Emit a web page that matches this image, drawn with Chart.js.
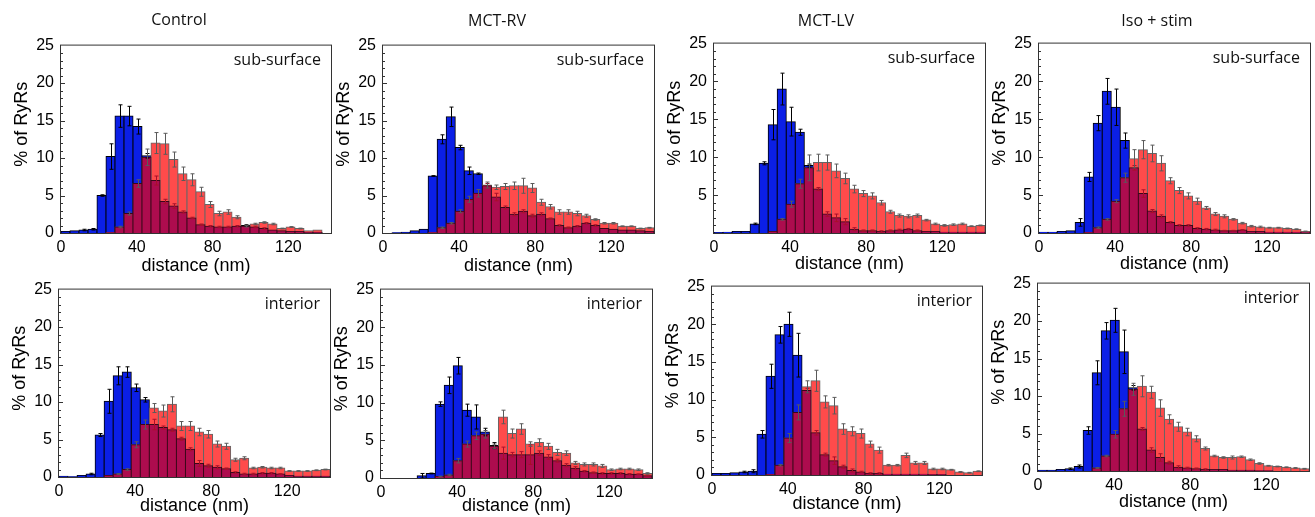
<!DOCTYPE html>
<html>
<head>
<meta charset="utf-8">
<title>RyR nearest-neighbour distances</title>
<script src="https://cdn.jsdelivr.net/npm/chart.js@4.4.1/dist/chart.umd.min.js"></script>
<style>
  body { margin: 0; background: #fff; }
  #fig { position: relative; width: 1315px; height: 517px; overflow: hidden; }
  #fig canvas { position: absolute; }
  .col-title {
    position: absolute;
    font-family: "Open Sans", sans-serif;
    font-size: 16px;
    color: #111;
    transform: translate(-50%, -50%);
    white-space: nowrap;
  }
</style>
</head>
<body>
<div id="fig"></div>
<script>
// 30 distance bins, 0 .. 142.5 nm
const binWidth = 4.75;
const xMax = 142.5;
const columns = ['Control', 'MCT-RV', 'MCT-LV', 'Iso + stim'];

// Control, sub-surface
const ctrlSubBlue = [0.2,0.3,0.4,0.5,5.0,10.2,15.6,15.6,14.2,10.3,7.0,4.2,3.6,2.8,2.0,1.1,0.9,0.8,0.8,0.9,1.0,0.8,0.6,0.4,0.3,0.2,0.2,0.1,0.1,0];
const ctrlSubBlueErr = [0,0,0.1,0.1,0.1,1.7,1.5,1.3,1.0,0.3,0.6,0.3,0.3,0.15,0.1,0.1,0.1,0.1,0.1,0.1,0.1,0.1,0.1,0,0,0,0,0,0,0];
const ctrlSubRed = [0,0,0,0,0,0.05,0.8,2.6,6.6,10.1,12.0,11.9,9.8,7.9,7.1,5.5,3.8,2.6,2.8,2.1,0.9,1.2,1.4,1.2,0.6,0.8,0.6,0.3,0.4,0];
const ctrlSubRedErr = [0,0,0,0,0,0,0.1,0.2,0.5,1.1,1.4,1.4,1.0,0.9,0.8,0.6,0.4,0.3,0.3,0.2,0.1,0.1,0.1,0.1,0.05,0.05,0.05,0,0,0];

// MCT-RV, sub-surface
const rvSubBlue = [0,0.05,0.1,0.3,0.5,7.6,12.5,15.5,11.4,8.3,7.9,6.3,4.8,3.4,2.5,2.9,2.3,2.5,1.9,1.0,0.7,0.9,1.3,1.0,0.6,0.5,0.4,0.4,0.3,0.2];
const rvSubBlueErr = [0,0,0,0,0,0.05,0.6,1.3,0.3,0.5,0.1,0.3,0.5,0.2,0.2,0.2,0.2,0.2,0.1,0.1,0.1,0.1,0.1,0.1,0,0,0,0,0,0];
const rvSubRed = [0,0,0,0,0,0.05,0.7,1.3,2.9,4.5,5.3,6.4,6.1,6.2,6.3,6.3,6.0,4.1,3.5,2.8,2.8,2.6,2.3,1.8,1.3,1.3,0.9,0.9,0.6,0.7];
const rvSubRedErr = [0,0,0,0,0,0,0.1,0.1,0.2,0.4,0.5,0.4,0.3,0.4,0.5,1.0,0.6,0.4,0.3,0.3,0.3,0.3,0.2,0.1,0.1,0.1,0.05,0.05,0.05,0.05];

// MCT-LV, sub-surface
const lvSubBlue = [0.05,0.1,0.2,0.2,1.2,9.2,14.3,19.0,14.7,13.3,8.9,5.8,2.5,2.0,1.5,0.5,0.3,0.3,0.2,0.3,0.4,0.5,0.3,0.2,0.2,0.1,0.1,0.1,0.1,0.1];
const lvSubBlueErr = [0,0,0,0,0.1,0.2,2.0,2.1,1.9,0.4,0.2,0.2,0.3,0.5,0.4,0.2,0.1,0.1,0.1,0.1,0.1,0.1,0.1,0,0,0,0,0,0,0];
const lvSubRed = [0,0,0,0,0,0,0.2,1.8,3.8,6.5,8.6,9.3,9.3,8.2,7.2,5.8,5.2,4.9,4.0,2.8,2.3,2.2,2.3,1.7,1.2,1.0,1.1,1.2,0.9,1.0];
const lvSubRedErr = [0,0,0,0,0,0,0,0.1,0.4,0.6,1.7,1.1,1.0,0.9,0.7,0.5,0.4,0.4,0.3,0.2,0.2,0.2,0.2,0.1,0.1,0.1,0.1,0.1,0.05,0.05];

// Iso + stim, sub-surface
const isoSubBlue = [0.1,0.1,0.2,0.3,1.4,7.4,14.5,18.7,16.6,12.2,8.6,5.2,2.9,2.2,1.4,1.0,1.0,0.6,0.5,0.4,0.3,0.3,0.4,0.2,0.2,0.1,0.1,0.1,0.1,0.1];
const isoSubBlueErr = [0,0,0,0,0.5,0.6,1.0,1.7,2.4,1.0,0.3,0.5,0.2,0.2,0.1,0.1,0.1,0.1,0.1,0.1,0.05,0.05,0.05,0,0,0,0,0,0,0];
const isoSubRed = [0,0,0,0,0,0.05,0.7,1.8,4.2,7.3,9.8,11.0,10.5,9.2,6.9,5.6,4.9,4.2,3.3,2.5,2.2,1.8,1.3,0.9,0.8,0.7,0.7,0.6,0.5,0.2];
const isoSubRedErr = [0,0,0,0,0,0,0.1,0.1,0.2,0.6,1.2,1.2,1.1,1.0,0.4,0.4,0.4,0.4,0.2,0.2,0.2,0.1,0.1,0.1,0.1,0.05,0.05,0.05,0.05,0.05];

// Control, interior
const ctrlIntBlue = [0.1,0.05,0.2,0.4,5.6,10.1,13.5,14.0,11.9,10.3,7.0,6.6,6.3,5.1,3.7,1.8,1.5,1.3,1.1,0.6,0.4,0.4,0.5,0.5,0.4,0.2,0.1,0.1,0.1,0.1];
const ctrlIntBlueErr = [0,0,0,0.1,0.2,1.6,1.2,0.7,0.5,0.3,0.7,0.2,0.2,0.2,0.2,0.4,0.2,0.2,0.1,0.1,0.1,0.1,0.1,0.1,0.05,0,0,0,0,0];
const ctrlIntRed = [0,0,0,0,0,0.2,0.4,1.0,4.3,7.0,9.2,8.8,9.7,6.8,6.8,6.0,5.7,4.4,4.1,2.3,2.5,1.2,1.3,1.2,1.2,0.8,0.8,0.8,0.9,1.0];
const ctrlIntRedErr = [0,0,0,0,0,0,0.05,0.1,0.4,0.6,0.6,0.8,1.0,0.6,0.6,0.5,0.5,0.4,0.4,0.2,0.2,0.1,0.1,0.1,0.1,0.05,0.05,0.05,0.05,0.05];

// MCT-RV, interior
const rvIntBlue = [0,0,0,0,0.3,0.6,9.8,12.3,14.9,9.0,8.1,6.1,4.3,3.3,3.1,3.1,3.1,3.3,2.8,2.3,1.7,1.3,0.9,0.7,0.6,0.6,0.6,0.5,0.5,0.3];
const rvIntBlueErr = [0,0,0,0,0.3,0.05,0.3,1.1,1.1,0.8,1.6,0.5,0.4,0.8,0.3,0.4,1.3,0.3,0.3,0.2,0.2,0.2,0.1,0.1,0.1,0.1,0.1,0.1,0.05,0.05];
const rvIntRed = [0,0,0,0,0,0,0.2,0.4,2.3,4.5,5.6,5.8,4.2,8.1,5.9,6.5,4.5,4.7,4.2,3.4,3.3,2.0,1.8,1.8,1.6,1.1,1.2,1.2,1.1,0.6];
const rvIntRedErr = [0,0,0,0,0,0,0.05,0.1,0.3,0.4,0.5,0.5,0.3,0.9,0.6,0.7,0.3,0.5,0.4,0.4,0.3,0.2,0.2,0.2,0.2,0.1,0.1,0.1,0.1,0.1];

// MCT-LV, interior
const lvIntBlue = [0.2,0.2,0.3,0.4,0.5,5.4,13.1,18.6,20.0,15.9,11.2,5.6,2.7,1.9,1.1,0.6,0.4,0.2,0.2,0.1,0.1,0.1,0.1,0.1,0.05,0.05,0,0,0,0];
const lvIntBlueErr = [0,0,0,0.1,0.2,0.5,1.6,1.1,1.6,2.9,0.3,0.3,0.2,0.5,0.2,0.2,0.1,0.1,0.1,0,0,0,0,0,0,0,0,0,0,0];
const lvIntRed = [0,0,0,0,0,0,0.05,1.3,4.9,8.3,11.7,12.5,9.7,9.2,6.1,5.8,5.5,4.1,3.3,1.3,1.3,2.6,1.6,1.6,0.8,0.8,0.7,0.4,0.3,0.5];
const lvIntRedErr = [0,0,0,0,0,0,0,0.1,0.6,1.0,0.8,1.4,0.8,1.1,0.7,0.6,0.6,0.4,0.4,0.1,0.1,0.3,0.2,0.2,0.1,0.1,0.05,0.05,0.05,0.05];

// Iso + stim, interior
const isoIntBlue = [0.1,0.1,0.2,0.3,0.6,5.4,13.1,18.7,20.1,15.9,11.1,5.6,2.8,1.8,1.1,0.5,0.4,0.3,0.2,0.2,0.2,0.1,0.1,0.1,0.05,0.05,0,0,0,0];
const isoIntBlueErr = [0,0,0,0.1,0.2,0.5,1.6,1.1,1.6,2.9,0.3,0.2,0.3,0.5,0.2,0.2,0.1,0.1,0.1,0,0,0,0,0,0,0,0,0,0,0];
const isoIntRed = [0,0,0,0,0,0,0.4,2.0,4.9,8.3,10.9,11.3,10.5,8.4,6.9,5.9,5.2,4.3,3.0,2.0,1.8,1.8,1.9,1.5,1.0,0.7,0.6,0.5,0.4,0.3];
const isoIntRedErr = [0,0,0,0,0,0,0.05,0.1,0.5,1.0,0.8,1.4,0.8,1.1,0.6,0.6,0.5,0.4,0.2,0.1,0.1,0.2,0.1,0.1,0.1,0.05,0.05,0.05,0.05,0.05];

const BLUE = '#0b1fe6';
const RED = '#ff4b4b';
const OVERLAP = '#ad0c4e';

// plot rectangles in page pixels: [left, top, right, bottom], and gap to x title centre
const panels = [
  { rect: [61, 41, 331, 233], titleGap: 33, region: 'sub-surface', blue: ctrlSubBlue, blueErr: ctrlSubBlueErr, red: ctrlSubRed, redErr: ctrlSubRedErr },
  { rect: [383, 41, 654, 233], titleGap: 33, region: 'sub-surface', blue: rvSubBlue, blueErr: rvSubBlueErr, red: rvSubRed, redErr: rvSubRedErr },
  { rect: [714, 39, 985, 233], titleGap: 31, region: 'sub-surface', blue: lvSubBlue, blueErr: lvSubBlueErr, red: lvSubRed, redErr: lvSubRedErr, hideZero: true },
  { rect: [1039, 39, 1310, 233], titleGap: 31, region: 'sub-surface', blue: isoSubBlue, blueErr: isoSubBlueErr, red: isoSubRed, redErr: isoSubRedErr },
  { rect: [59, 285, 330, 477], titleGap: 29, region: 'interior', blue: ctrlIntBlue, blueErr: ctrlIntBlueErr, red: ctrlIntRed, redErr: ctrlIntRedErr },
  { rect: [381, 285, 652, 478], titleGap: 28, region: 'interior', blue: rvIntBlue, blueErr: rvIntBlueErr, red: rvIntRed, redErr: rvIntRedErr },
  { rect: [712, 282, 982, 475], titleGap: 29, region: 'interior', blue: lvIntBlue, blueErr: lvIntBlueErr, red: lvIntRed, redErr: lvIntRedErr },
  { rect: [1038, 279, 1309, 471], titleGap: 31, region: 'interior', blue: isoIntBlue, blueErr: isoIntBlueErr, red: isoIntRed, redErr: isoIntRedErr }
];
const titlePos = [[179, 19], [497, 20], [826, 20], [1157, 20]];

const binCenters = ctrlSubBlue.map((_, i) => (i + 0.5) * binWidth);
const panelByCanvas = new WeakMap();

Chart.defaults.font.family = '"Liberation Sans", Arial, sans-serif';
Chart.defaults.color = '#000';

// frame, inner ticks, error bars and labels
const panelPlugin = {
  id: 'panel',
  afterDatasetsDraw(chart) {
    const p = panelByCanvas.get(chart.canvas);
    if (!p) return;
    const { ctx, chartArea: a } = chart;
    const x = chart.scales.x, y = chart.scales.y;
    ctx.save();

    const errBar = (i, v, e, color) => {
      if (!e) return;
      const px = Math.round(x.getPixelForValue(binCenters[i])) + 0.5;
      const y1 = y.getPixelForValue(v - e), y2 = y.getPixelForValue(v + e);
      ctx.strokeStyle = color;
      ctx.lineWidth = 1;
      ctx.beginPath();
      ctx.moveTo(px, y1); ctx.lineTo(px, y2);
      ctx.moveTo(px - 2, y1); ctx.lineTo(px + 2, y1);
      ctx.moveTo(px - 2, y2); ctx.lineTo(px + 2, y2);
      ctx.stroke();
    };
    p.blue.forEach((v, i) => errBar(i, v, p.blueErr[i], v >= p.red[i] ? '#000' : '#a8102a'));
    p.red.forEach((v, i) => errBar(i, v, p.redErr[i], '#5a5a5a'));

    ctx.strokeStyle = '#333';
    ctx.lineWidth = 1;
    ctx.strokeRect(a.left - 0.5, a.top - 0.5, a.right - a.left + 1, a.bottom - a.top + 1);
    ctx.beginPath();
    for (let v = 1; v < 25; v++) {
      const py = Math.round(y.getPixelForValue(v)) + 0.5;
      ctx.moveTo(a.left, py);
      ctx.lineTo(a.left + (v % 5 === 0 ? 4 : 2), py);
    }
    ctx.stroke();

    ctx.fillStyle = '#111';
    ctx.font = '16px "Open Sans", sans-serif';
    ctx.textAlign = 'right';
    ctx.textBaseline = 'middle';
    ctx.fillText(p.region, a.right - 10, a.top + 15);

    ctx.fillStyle = '#000';
    ctx.font = '18px "Liberation Sans", Arial, sans-serif';
    ctx.textAlign = 'center';
    ctx.translate(a.left - 39, (a.top + a.bottom) / 2 - 15);
    ctx.rotate(-Math.PI / 2);
    ctx.fillText('% of RyRs', 0, 0);
    ctx.restore();
  }
};

const fig = document.getElementById('fig');
const padTop = 12, padRight = 8, yAxisW = 60;

panels.forEach(p => {
  const [L, T, R, B] = p.rect;
  const xAxisH = p.titleGap + 11;
  const canvas = document.createElement('canvas');
  canvas.width = yAxisW + (R - L) + padRight;
  canvas.height = padTop + (B - T) + xAxisH;
  canvas.style.left = (L - yAxisW) + 'px';
  canvas.style.top = (T - padTop) + 'px';
  fig.appendChild(canvas);
  panelByCanvas.set(canvas, p);

  const pts = arr => arr.map((v, i) => ({ x: binCenters[i], y: v }));
  const overlap = p.blue.map((v, i) => Math.min(v, p.red[i]));

  new Chart(canvas, {
    type: 'bar',
    data: {
      datasets: [
        { label: 'overlap', data: pts(overlap), backgroundColor: OVERLAP, borderColor: '#3a0818', order: 0 },
        { label: 'red', data: pts(p.red), backgroundColor: RED, borderColor: '#666', order: 1 },
        { label: 'blue', data: pts(p.blue), backgroundColor: BLUE, borderColor: '#000', order: 2 }
      ]
    },
    options: {
      responsive: false,
      animation: false,
      events: [],
      layout: { padding: { top: padTop, right: padRight, left: 0, bottom: 0 } },
      datasets: {
        bar: { barPercentage: 1, categoryPercentage: 1, grouped: false, borderWidth: 1, inflateAmount: 0.5 }
      },
      scales: {
        x: {
          type: 'linear',
          offset: false,
          min: 0,
          max: xMax,
          afterFit: s => { s.height = xAxisH; },
          grid: { display: false, drawTicks: false, offset: false },
          border: { display: false },
          ticks: { stepSize: 40, includeBounds: false, autoSkip: false, maxRotation: 0, padding: 5, font: { size: 16 } },
          title: { display: true, text: 'distance (nm)', font: { size: 18 }, padding: 0 }
        },
        y: {
          min: 0,
          max: 25,
          afterFit: s => { s.width = yAxisW; },
          grid: { display: false, drawTicks: false },
          border: { display: false },
          ticks: {
            stepSize: 5,
            padding: 7,
            font: { size: 16 },
            callback: v => (p.hideZero && v === 0) ? '' : v
          }
        }
      },
      plugins: { legend: { display: false }, tooltip: { enabled: false } }
    },
    plugins: [panelPlugin]
  });
});

columns.forEach((name, i) => {
  const d = document.createElement('div');
  d.className = 'col-title';
  d.textContent = name;
  d.style.left = titlePos[i][0] + 'px';
  d.style.top = titlePos[i][1] + 'px';
  fig.appendChild(d);
});
</script>
</body>
</html>
